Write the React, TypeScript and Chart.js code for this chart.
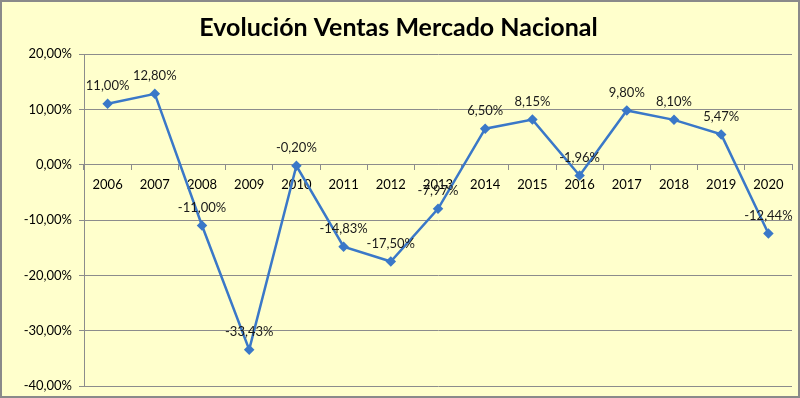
import React, { useEffect, useRef } from "react";
import { Chart, registerables } from "chart.js";

Chart.register(...registerables);

const years = ["2006", "2007", "2008", "2009", "2010", "2011", "2012", "2013", "2014", "2015", "2016", "2017", "2018", "2019", "2020"];
const ventas = [11.0, 12.8, -11.0, -33.43, -0.2, -14.83, -17.5, -7.97, 6.5, 8.15, -1.96, 9.8, 8.1, 5.47, -12.44];
const yMin = -40;
const yMax = 20;
const yStep = 10;
const titleText = "Evolución Ventas Mercado Nacional";

const fmt = (v: number) => v.toFixed(2).replace(".", ",") + "%";

const FONT = "Lato, 'Open Sans', sans-serif";
const GRID = "#8c8c8c";
const LINE = "#3a78c8";

const dataLabels = {
  id: "dataLabels",
  afterDatasetsDraw(chart: any) {
    const ctx = chart.ctx;
    const meta = chart.getDatasetMeta(0);
    ctx.save();
    ctx.font = `13px ${FONT}`;
    ctx.fillStyle = "#1a1a1a";
    ctx.textAlign = "center";
    ctx.textBaseline = "middle";
    meta.data.forEach((pt: any, i: number) => {
      ctx.fillText(fmt(ventas[i]), pt.x, pt.y - 18);
    });
    ctx.restore();
  },
};

export default function App() {
  const ref = useRef<HTMLCanvasElement>(null);
  useEffect(() => {
    if (!ref.current) return;
    const chart = new Chart(ref.current, {
      type: "line",
      data: {
        labels: years,
        datasets: [
          {
            data: ventas,
            borderColor: LINE,
            backgroundColor: LINE,
            borderWidth: 2.5,
            pointStyle: "rectRot",
            pointRadius: 3.5,
            pointHoverRadius: 3.5,
            tension: 0,
          },
        ],
      },
      options: {
        responsive: false,
        animation: false,
        layout: { padding: { left: 0, right: 3, top: 0, bottom: 10 } },
        plugins: {
          legend: { display: false },
          tooltip: { enabled: false },
          title: {
            display: true,
            text: titleText,
            color: "#000",
            font: { family: FONT, size: 25, weight: "bold" },
            padding: { top: 11, bottom: 11 },
          },
        },
        scales: {
          x: {
            type: "category",
            position: { y: 0 } as any,
            offset: true,
            grid: {
              display: true,
              drawOnChartArea: false,
              drawTicks: true,
              tickLength: 5,
              color: GRID,
              offset: true,
            },
            border: { display: true, color: GRID, width: 1 },
            ticks: {
              color: "#000",
              font: { family: FONT, size: 13 },
              padding: 7,
              maxRotation: 0,
              autoSkip: false,
            },
            afterFit: (scale: any) => {
              scale.height = 0;
              scale.paddingLeft = 0;
              scale.paddingRight = 0;
            },
          },
          y: {
            min: yMin,
            max: yMax,
            grid: { color: GRID, tickLength: 5, lineWidth: 1 },
            border: { display: true, color: GRID },
            ticks: {
              stepSize: yStep,
              color: "#000",
              font: { family: FONT, size: 13 },
              padding: 7,
              callback: (v: any) => fmt(Number(v)),
            },
            afterFit: (scale: any) => {
              scale.width = 82;
              scale.paddingTop = 0;
              scale.paddingBottom = 0;
            },
          },
        },
      },
      plugins: [dataLabels],
    });
    return () => chart.destroy();
  }, []);
  return (
    <div
      style={{
        position: "absolute",
        left: 0,
        top: 0,
        width: 800,
        height: 398,
        boxSizing: "border-box",
        border: "2px solid #8a8a8a",
        background: "#FFFFCC",
      }}
    >
      <canvas ref={ref} width={796} height={394} style={{ display: "block" }} />
    </div>
  );
}
